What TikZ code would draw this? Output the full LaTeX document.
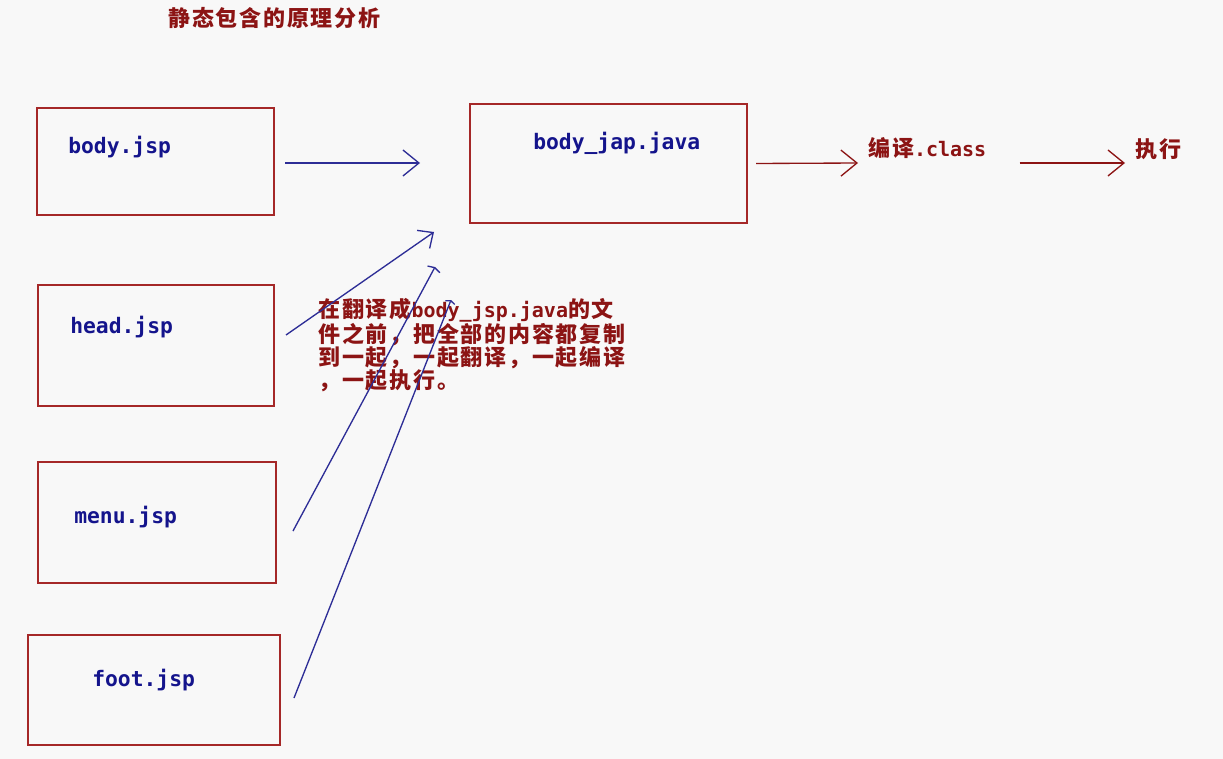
\documentclass[tikz,border=0pt]{standalone}
\usepackage{fontspec}
\usetikzlibrary{arrows.meta,positioning,calc}
\newfontfamily\cjk{Noto Sans CJK SC}[LetterSpace=8]
\newfontfamily\mono{DejaVu Sans Mono}
\definecolor{boxred}{RGB}{165,40,40}
\definecolor{darkred}{RGB}{140,20,20}
\definecolor{textblue}{RGB}{20,20,140}
\definecolor{arrowblue}{RGB}{45,45,150}
\definecolor{paper}{RGB}{248,248,248}
\newdimen\pxu \pxu=0.75pt

\begin{document}
\begin{tikzpicture}[x=0.75pt, y=-0.75pt,
    filebox/.style={draw=boxred, line width=1.5pt, inner sep=0pt},
    jsplabel/.style={anchor=west, inner sep=0pt, textblue, font=\mono\bfseries\fontsize{16}{18}\selectfont},
    redlabel/.style={anchor=west, inner sep=0pt, darkred, font=\cjk\bfseries\fontsize{16.5}{17.25}\selectfont},
    blueline/.style={arrowblue, line width=1pt},
    redline/.style={darkred, line width=1pt},
    barb/.style={-{Straight Barb[length=12pt, width=19.5pt]}}
]

    \fill[paper] (0,0) rectangle (1223,759);

    \node[redlabel] (title) at (168,18) {静态包含的原理分析};

    % the jsp files
    \node[filebox, minimum width=237\pxu, minimum height=107\pxu] (bodybox) at (155.5,161.5) {};
    \node[filebox, minimum width=236\pxu, minimum height=121\pxu] (headbox) at (156,345.5) {};
    \node[filebox, minimum width=238\pxu, minimum height=121\pxu] (menubox) at (157,522.5) {};
    \node[filebox, minimum width=252\pxu, minimum height=110\pxu] (footbox) at (154,690) {};
    \node[jsplabel] (bodytxt) at (68,147) {body.jsp};
    \node[jsplabel] (headtxt) at (70,327) {head.jsp};
    \node[jsplabel] (menutxt) at (74,517) {menu.jsp};
    \node[jsplabel] (foottxt) at (92,680) {foot.jsp};

    % translated file
    \node[filebox, minimum width=277\pxu, minimum height=119\pxu] (javabox) at (608.5,163.5) {};
    \node[jsplabel] (javatxt) at (533,143) {body\_jap.java};
    \node[redlabel] (compile) at (868,148) {编译{\mono\fontsize{15}{17}\selectfont.class}};
    \node[redlabel] (run) at (1135,149) {执行};

    \node[redlabel, align=left, anchor=north west] (note) at (318,298) {在翻译成{\mono\fontsize{15}{17}\selectfont body\_jsp.java}的文\\件之前，把全部的内容都复制\\到一起，一起翻译，一起编译\\，一起执行。};

    % blue arrows
    \coordinate (bodytip) at (420,163);
    \coordinate (headtip) at (434,232);
    \coordinate (menutip) at (435,267);
    \coordinate (foottip) at (451,300);
    \draw[blueline, barb] ([shift={(10,1.5)}]bodybox.east) -- (bodytip);
    \draw[blueline, -{Straight Barb[length=9pt, width=16.5pt]}] ([shift={(11,-10.5)}]headbox.east) -- (headtip);
    \draw[blueline, -{Straight Barb[length=1.5pt, width=10.5pt]}] ([shift={(16,8.5)}]menubox.east) -- (menutip);
    \draw[blueline, -{Straight Barb[length=1.5pt, width=7.5pt]}] ([shift={(13,8)}]footbox.east) -- (foottip);

    % red arrows
    \draw[redline, barb] ([shift={(8,0)}]javabox.east) -- ([shift={(-10,15)}]compile.west);
    \draw[redline, barb] ([shift={(33,15)}]compile.east) -- ([shift={(-10,14)}]run.west);

\end{tikzpicture}
\end{document}
